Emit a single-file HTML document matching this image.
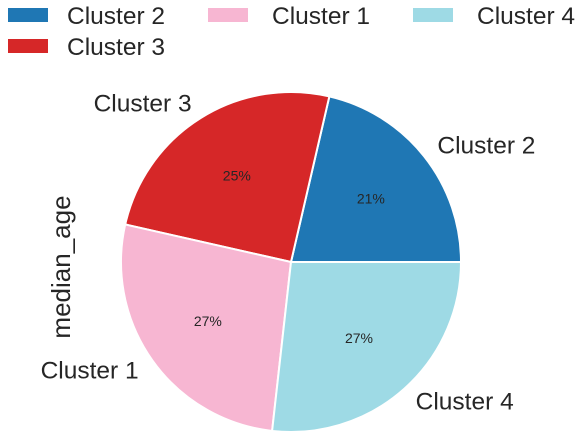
<!DOCTYPE html>
<html><head><meta charset="utf-8"><style>
body{margin:0;background:#fff;}
svg text{font-family:"Liberation Sans","DejaVu Sans",sans-serif;fill:#262626;}
</style></head><body>
<svg width="581" height="436" viewBox="0 0 581 436">
<g id="legend"></g>
<text transform="translate(70,267) rotate(-90)" text-anchor="middle" font-size="26">median_age</text>
<g id="pie"></g>
</svg>
<script>
const categories=["Cluster 2","Cluster 3","Cluster 1","Cluster 4"];
const values=[21.4,25.1,26.8,26.8];
const pctLabels=["21%","25%","27%","27%"];
const colors=["#1f77b4","#d62728","#f7b6d2","#9edae5"];
const NS="http://www.w3.org/2000/svg";
const cx=291,cy=262,r=170;
const pie=document.getElementById('pie');
const total=values.reduce((a,b)=>a+b,0);
let a0=0;
function pt(a,rr){return [cx+rr*Math.cos(a*Math.PI/180),cy-rr*Math.sin(a*Math.PI/180)];}
values.forEach((v,i)=>{
  const a1=a0+v/total*360;
  const p0=pt(a0,r),p1=pt(a1,r);
  const large=(a1-a0)>180?1:0;
  const path=document.createElementNS(NS,'path');
  path.setAttribute('d',`M${cx},${cy}L${p0[0]},${p0[1]}A${r},${r} 0 ${large} 0 ${p1[0]},${p1[1]}Z`);
  path.setAttribute('fill',colors[i]);path.setAttribute('stroke','#fff');path.setAttribute('stroke-width','2');
  
  
  pie.appendChild(path);
  const m=(a0+a1)/2;
  const lp=pt(m,r*1.1);
  const t=document.createElementNS(NS,'text');
  t.setAttribute('x',lp[0]);t.setAttribute('y',lp[1]+8);t.setAttribute('font-size','24.5');
  t.setAttribute('text-anchor',Math.cos(m*Math.PI/180)>=0?'start':'end');
  t.textContent=categories[i];
  
  
  pie.appendChild(t);
  const pp=pt(m,r*0.6);
  const t2=document.createElementNS(NS,'text');
  t2.setAttribute('x',pp[0]);t2.setAttribute('y',pp[1]+5);t2.setAttribute('font-size','14');
  t2.setAttribute('text-anchor','middle');t2.textContent=pctLabels[i];
  
  
  pie.appendChild(t2);
  a0=a1;
});
const leg=document.getElementById('legend');
const legPos=[[8,8,67],[8,39,67],[208,8,272],[413,8,477]];
categories.forEach((c,i)=>{
  const p=legPos[i];
  const rect=document.createElementNS(NS,'rect');
  rect.setAttribute('x',p[0]);rect.setAttribute('y',p[1]);rect.setAttribute('width',40);rect.setAttribute('height',14);
  rect.setAttribute('fill',colors[i]);
  
  
  leg.appendChild(rect);
  const t=document.createElementNS(NS,'text');
  t.setAttribute('x',p[2]);t.setAttribute('y',p[1]+16);t.setAttribute('font-size','24.5');
  t.textContent=c;
  
  
  leg.appendChild(t);
});
</script>
</body></html>
